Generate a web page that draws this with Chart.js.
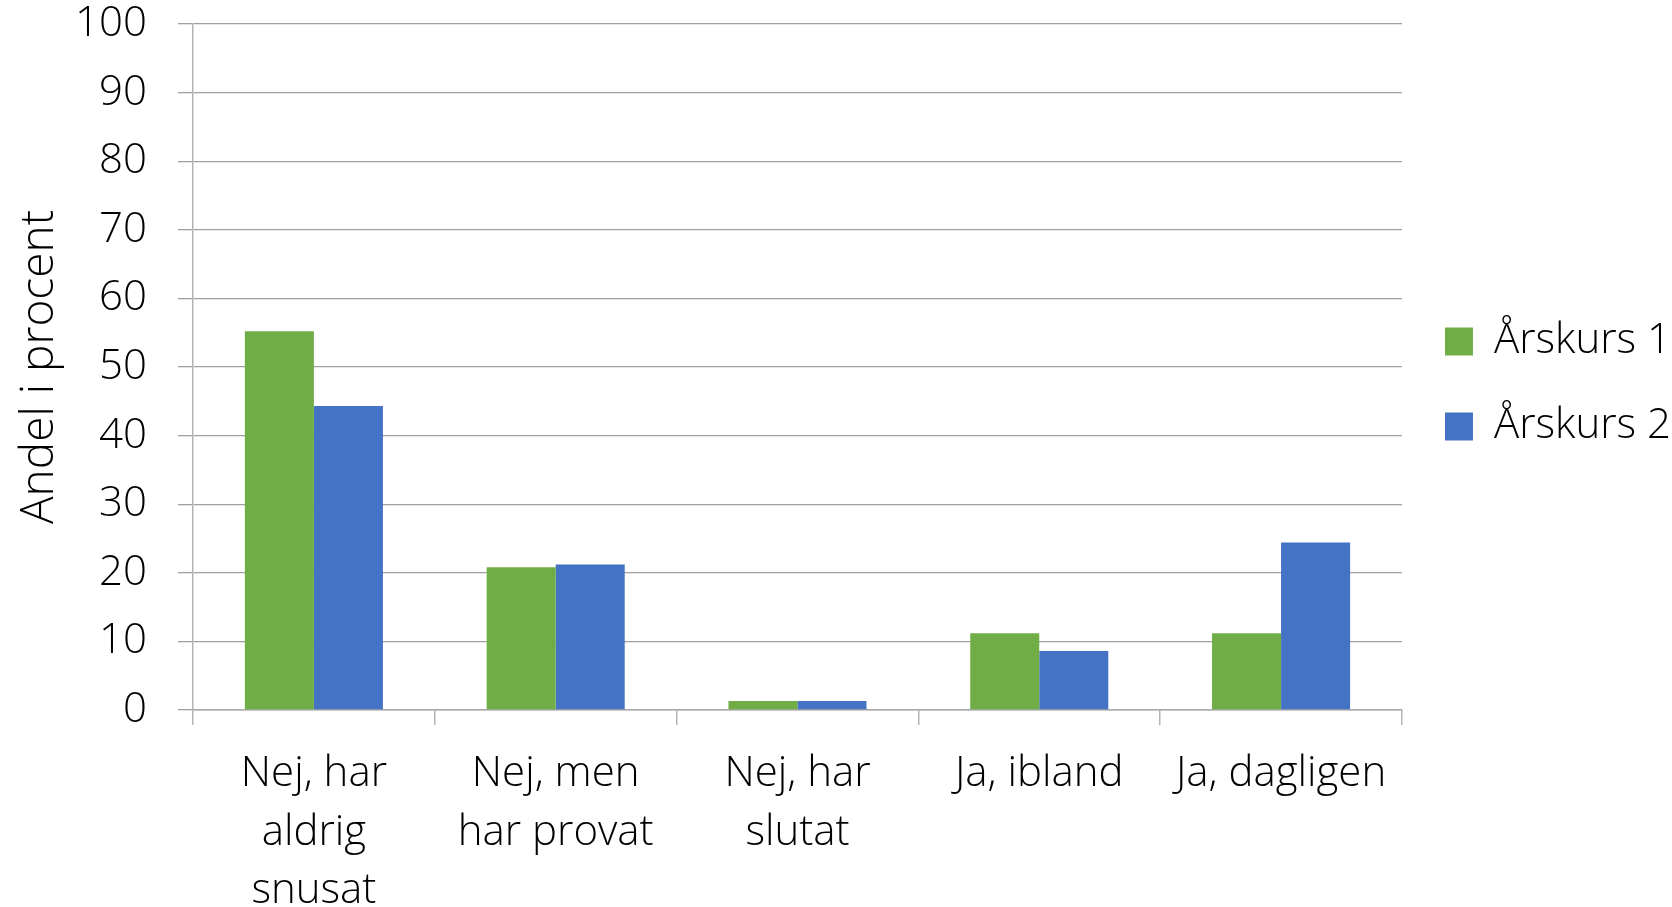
<!DOCTYPE html>
<html>
<head>
<meta charset="utf-8">
<script src="https://cdn.jsdelivr.net/npm/chart.js@4"></script>
<style>
  html, body { margin: 0; padding: 0; background: #fff; }
  #wrap { width: 1672px; height: 907px; }
</style>
</head>
<body>
<div id="wrap"><canvas id="myChart" width="1672" height="907"></canvas></div>
<script>
// Categories (multi-line labels)
var categories = [
    ['Nej, har', 'aldrig', 'snusat'],
    ['Nej, men', 'har provat'],
    ['Nej, har', 'slutat'],
    'Ja, ibland',
    'Ja, dagligen'
];

// Series values, percent
var arskurs1 = [55.2, 20.8, 1.3, 11.2, 11.2];
var arskurs2 = [44.3, 21.2, 1.3, 8.6, 24.4];

// Y tick settings
var yMin = 0;
var yMax = 100;
var yStep = 10;

var fontFamily = "'Open Sans', 'Noto Sans', sans-serif";

document.addEventListener("DOMContentLoaded", function() {
    const ctx = document.getElementById('myChart').getContext('2d');
    const myChart = new Chart(ctx, {
        type: 'bar',
        data: {
            labels: categories,
            datasets: [{
                label: 'Årskurs 1',
                data: arskurs1,
                backgroundColor: '#70AD47',
                borderWidth: 0
            }, {
                label: 'Årskurs 2',
                data: arskurs2,
                backgroundColor: '#4472C4',
                borderWidth: 0
            }]
        },
        options: {
            responsive: false,
            animation: false,
            layout: { padding: { top: 0, right: -9, bottom: 0, left: 0 } },
            datasets: {
                bar: { categoryPercentage: 0.571, barPercentage: 1.0 }
            },
            plugins: {
                tooltip: { enabled: false },
                legend: {
                    position: 'right',
                    align: 'center',
                    fullSize: false,
                    // empty title only to push the items down a bit
                    title: {
                        display: true,
                        text: '',
                        font: { size: 20, lineHeight: 1 },
                        padding: { top: 7, bottom: 7 }
                    },
                    labels: {
                        boxWidth: 28,
                        boxHeight: 28,
                        padding: 43,
                        color: '#000',
                        font: { family: fontFamily, size: 42, weight: 300 }
                    }
                }
            },
            scales: {
                x: {
                    afterFit: function(scale) { scale.height = 197; },
                    grid: {
                        display: true,
                        drawOnChartArea: false,
                        drawTicks: true,
                        tickLength: 15,
                        color: '#b4b4b4',
                        lineWidth: 1.5
                    },
                    border: { display: true, color: '#a8a8a8', width: 1.5 },
                    ticks: {
                        color: '#000',
                        padding: 20,
                        maxRotation: 0,
                        autoSkip: false,
                        font: { family: fontFamily, size: 42, weight: 300, lineHeight: 1.393 }
                    }
                },
                y: {
                    min: yMin,
                    max: yMax,
                    afterFit: function(scale) {
                        scale.width = 193;
                        scale.paddingTop = 24;
                        scale.paddingBottom = 0;
                    },
                    grid: {
                        color: '#a0a0a0',
                        lineWidth: 1.3,
                        drawTicks: true,
                        tickLength: 15
                    },
                    border: { display: true, color: '#b4b4b4', width: 1.5 },
                    ticks: {
                        stepSize: yStep,
                        color: '#000',
                        padding: 31,
                        font: { family: fontFamily, size: 42, weight: 300 }
                    },
                    title: {
                        display: true,
                        text: 'Andel i procent',
                        color: '#000',
                        padding: { top: 12, bottom: 0 },
                        font: { family: fontFamily, size: 46, weight: 300, lineHeight: 1.2 }
                    }
                }
            }
        }
    });
});
</script>
</body>
</html>
